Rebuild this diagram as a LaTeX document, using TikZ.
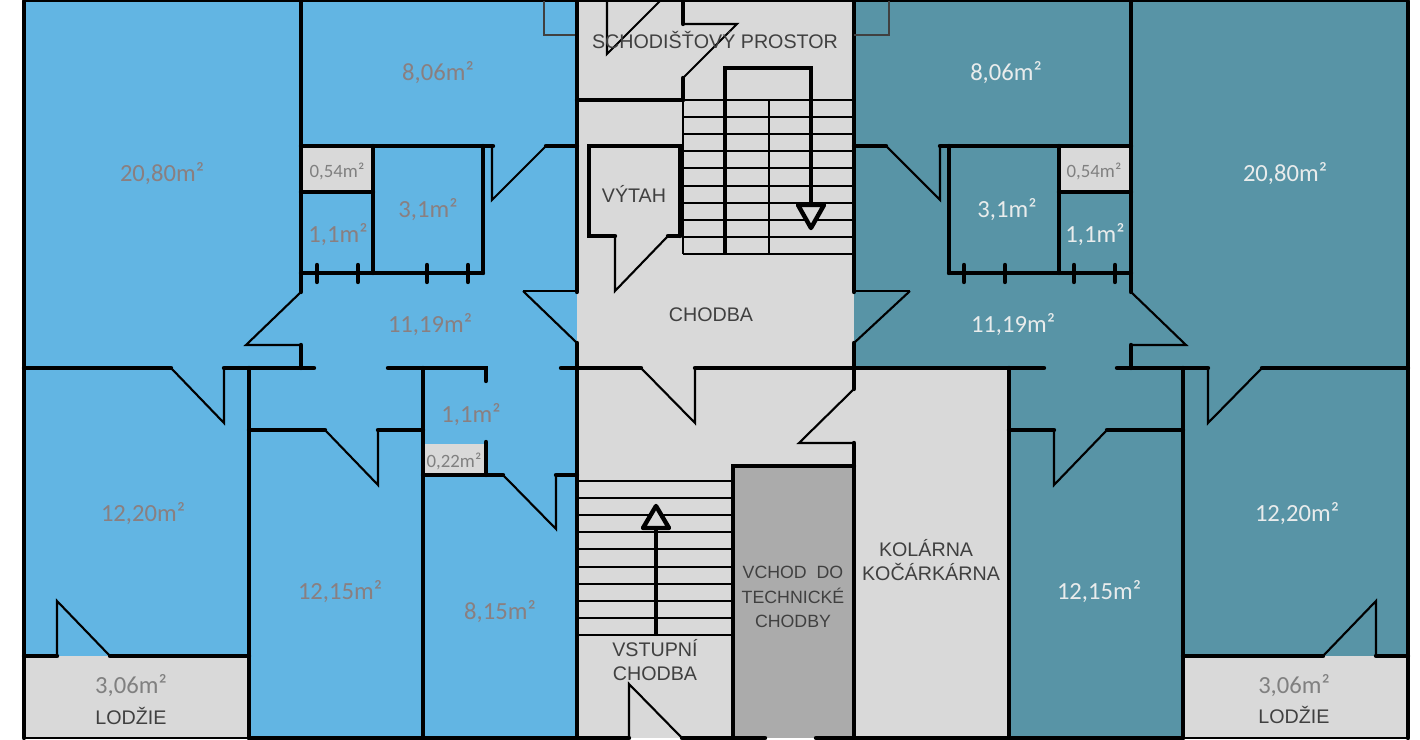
\documentclass[tikz,border=0pt]{standalone}
\usepackage{fontspec}
\setmainfont{Carlito}
\newfontfamily\labelfont{Liberation Sans}
\definecolor{flatblue}{HTML}{62B5E3}
\definecolor{flatteal}{HTML}{5894A6}
\definecolor{hallgrey}{HTML}{D9D9D9}
\definecolor{techgrey}{HTML}{ABABAB}
\definecolor{areagrey}{HTML}{8A7F80}
\definecolor{areawhite}{HTML}{E9ECEC}
\definecolor{namegrey}{HTML}{404040}
\tikzset{
  wall/.style={line width=1.25pt, line cap=round},
  thinwall/.style={line width=0.6pt},
  stepline/.style={line width=0.45pt},
  walkline/.style={line width=1.25pt, line join=miter},
  shaftline/.style={line width=0.3pt, draw=black!75},
  area/.style={font=\fontsize{7}{8}\selectfont, text=areagrey, inner sep=0pt, yshift=-0.02cm},
  areaw/.style={area, text=areawhite},
  areas/.style={font=\fontsize{5.35}{6}\selectfont, text=black!50, inner sep=0pt, yshift=-0.01cm},
  areag/.style={area, text=black!50},
  roomname/.style={font=\labelfont\fontsize{5.6}{6.9}\selectfont, text=namegrey, inner sep=0pt, align=center},
  techname/.style={roomname, font=\labelfont\fontsize{5.05}{6.9}\selectfont},
}
\begin{document}
\begin{tikzpicture}[x=0.01cm, y=-0.01cm]
  \useasboundingbox (0,0) rectangle (1420,740);
  % floors
  \fill[flatblue] (24,1) rectangle (577,738);
  \fill[flatteal] (854,1) rectangle (1408,738);
  \fill[hallgrey] (577,1) rectangle (854,738);
  \fill[hallgrey] (854,368) rectangle (1009,738);
  \fill[techgrey] (733,466) rectangle (854,738);
  \fill[hallgrey] (24,656) rectangle (249,738);
  \fill[hallgrey] (1183,656) rectangle (1408,738);
  \fill[hallgrey] (301,146) rectangle (373,192);
  \fill[hallgrey] (1059,146) rectangle (1131,192);
  \fill[hallgrey] (423,444) rectangle (486,475);
  % outline
  \draw[line width=0.8pt] (24,1) -- (1408,1);
  \draw[wall] (24,1) -- (24,738);
  \draw[wall] (1408,1) -- (1408,738);
  \draw[thinwall] (24,738) -- (249,738);
  \draw[thinwall] (1183,738) -- (1408,738);
  \draw[wall] (249,738) -- (629,738);
  \draw[wall] (682,738) -- (765,738);
  \draw[wall] (816,738) -- (1183,738);
  % left flat
  \draw[wall] (301,1) -- (301,292);
  \draw[thinwall] (301,292) -- (246,345) -- (301,345);
  \draw[wall] (301,345) -- (301,368);
  \draw[wall] (301,146) -- (493,146);
  \draw[thinwall] (546,146) -- (492,200) -- (492,146);
  \draw[wall] (546,146) -- (577,146);
  \draw[wall] (373,146) -- (373,273);
  \draw[wall] (483,146) -- (483,273);
  \draw[wall] (301,192) -- (373,192);
  \draw[wall] (301,273) -- (483,273);
  \foreach \tickx in {317,358,427,468}
    \draw[wall] (\tickx,265) -- (\tickx,282);
  \draw[shaftline] (577,35) -- (544,35) -- (544,1);
  \draw[wall] (24,368) -- (171,368);
  \draw[thinwall] (171,368) -- (224,423) -- (224,368);
  \draw[wall] (224,368) -- (314,368);
  \draw[wall] (388,368) -- (486,368) -- (486,381);
  \draw[wall] (561,368) -- (641,368);
  \draw[wall] (249,368) -- (249,738);
  \draw[wall] (423,368) -- (423,738);
  \draw[wall] (249,430) -- (325,430);
  \draw[thinwall] (325,430) -- (378,485) -- (378,430);
  \draw[wall] (378,430) -- (423,430);
  \draw[wall] (486,442) -- (486,475);
  \draw[wall] (423,475) -- (503,475);
  \draw[thinwall] (503,475) -- (556,529) -- (556,475);
  \draw[wall] (556,475) -- (577,475);
  \draw[wall] (24,656) -- (57,656);
  \draw[thinwall] (57,656) -- (57,601) -- (110,656);
  \draw[wall] (110,656) -- (249,656);
  % staircase and corridor
  \draw[wall] (577,1) -- (577,292);
  \draw[thinwall] (523,291) -- (577,291);
  \draw[thinwall] (523,291) -- (577,343);
  \draw[wall] (577,343) -- (577,738);
  \draw[wall] (854,1) -- (854,292);
  \draw[thinwall] (910,291) -- (854,291);
  \draw[thinwall] (910,291) -- (854,343);
  \draw[wall] (854,343) -- (854,389);
  \draw[thinwall] (854,389) -- (799,443) -- (854,443);
  \draw[wall] (854,443) -- (854,738);
  \draw[wall] (577,100) -- (683,100);
  \draw[wall] (683,1) -- (683,24);
  \draw[thinwall] (683,24) -- (737,24) -- (683,78);
  \draw[wall] (683,78) -- (683,100);
  \draw[thinwall] (607,1) -- (607,54) -- (660,1);
  \foreach \stepy in {100,117,134,151,168,186,203,220,237,254}
    \draw[stepline] (683,\stepy) -- (854,\stepy);
  \draw[stepline] (683,100) -- (683,254);
  \draw[stepline] (769,100) -- (769,254);
  \draw[walkline] (725,254) -- (725,68) -- (811,68) -- (811,205);
  \draw[walkline, fill=hallgrey, line join=round] (798,205) -- (824,205) -- (811,228) -- cycle;
  \draw[wall] (680,236) -- (680,146) -- (589,146) -- (589,236) -- (615,236);
  \draw[thinwall] (615,236) -- (615,291) -- (668,236);
  \draw[wall] (668,236) -- (680,236);
  \draw[wall] (695,368) -- (1044,368);
  \draw[thinwall] (641,368) -- (695,423) -- (695,368);
  \draw[wall] (733,738) -- (733,466) -- (854,466);
  \foreach \stepy in {481,498,515,532,549,567,584,601,618,635}
    \draw[stepline] (577,\stepy) -- (733,\stepy);
  \draw[walkline] (656,635) -- (656,528);
  \draw[walkline, fill=hallgrey, line join=round] (643,528) -- (669,528) -- (656,506) -- cycle;
  \draw[thinwall] (629,738) -- (629,684) -- (682,738);
  % right flat
  \draw[wall] (1131,1) -- (1131,292);
  \draw[thinwall] (1131,292) -- (1186,345) -- (1131,345);
  \draw[wall] (1131,345) -- (1131,368);
  \draw[wall] (854,146) -- (886,146);
  \draw[thinwall] (886,146) -- (940,200) -- (940,146);
  \draw[wall] (940,146) -- (1131,146);
  \draw[wall] (949,146) -- (949,273);
  \draw[wall] (1059,146) -- (1059,273);
  \draw[wall] (1059,192) -- (1131,192);
  \draw[wall] (949,273) -- (1131,273);
  \foreach \tickx in {964,1005,1074,1115}
    \draw[wall] (\tickx,265) -- (\tickx,282);
  \draw[shaftline] (854,35) -- (889,35) -- (889,1);
  \draw[wall] (1117,368) -- (1208,368);
  \draw[thinwall] (1208,368) -- (1208,423) -- (1262,368);
  \draw[wall] (1262,368) -- (1408,368);
  \draw[wall] (1009,368) -- (1009,738);
  \draw[wall] (1183,368) -- (1183,738);
  \draw[wall] (1009,430) -- (1054,430);
  \draw[thinwall] (1054,430) -- (1054,485) -- (1107,430);
  \draw[wall] (1107,430) -- (1183,430);
  \draw[wall] (1183,656) -- (1323,656);
  \draw[thinwall] (1323,656) -- (1376,601) -- (1376,656);
  \draw[wall] (1376,656) -- (1408,656);
  % left flat areas
  \node[area] (bedl) at (162,172) {20,80m²};
  \node[area] (halll) at (438,71) {8,06m²};
  \node[areas] (wcl) at (337,170) {0,54m²};
  \node[area] (bathl) at (428,208) {3,1m²};
  \node[area] (storel) at (338,233) {1,1m²};
  \node[area] (hubl) at (430,323) {11,19m²};
  \node[area] (storem) at (471,413) {1,1m²};
  \node[areas] (ductl) at (454,460) {0,22m²};
  \node[area] (rooml) at (143,512) {12,20m²};
  \node[area] (kidl) at (340,590) {12,15m²};
  \node[area] (kitl) at (500,610) {8,15m²};
  \node[areag] (lodgl) at (131,684) {3,06m²};
  \node[roomname] (lodgnl) at (131,716) {LODŽIE};
  % right flat areas
  \node[areaw] (bedr) at (1285,172) {20,80m²};
  \node[areaw] (hallr) at (1006,71) {8,06m²};
  \node[areas] (wcr) at (1094,170) {0,54m²};
  \node[areaw] (bathr) at (1007,208) {3,1m²};
  \node[areaw] (storer) at (1095,233) {1,1m²};
  \node[areaw] (hubr) at (1013,323) {11,19m²};
  \node[areaw] (roomr) at (1297,512) {12,20m²};
  \node[areaw] (kidr) at (1099,590) {12,15m²};
  \node[areag] (lodgr) at (1294,684) {3,06m²};
  \node[roomname] (lodgnr) at (1294,715) {LODŽIE};
  % shared rooms
  \node[roomname] (stairs) at (715,39.5) {SCHODIŠŤOVÝ PROSTOR};
  \node[roomname] (lift) at (634,193.5) {VÝTAH};
  \node[roomname] (corridor) at (711,315) {CHODBA};
  \node[roomname] (entry) at (655,660) {VSTUPNÍ\\CHODBA};
  \node[techname] (tech) at (793,597) {VCHOD\ \ DO\\TECHNICKÉ\\CHODBY};
  \node[roomname] (pram) at (931,560) {\hspace*{-2.8pt}KOLÁRNA\\KOČÁRKÁRNA};
\end{tikzpicture}
\end{document}
